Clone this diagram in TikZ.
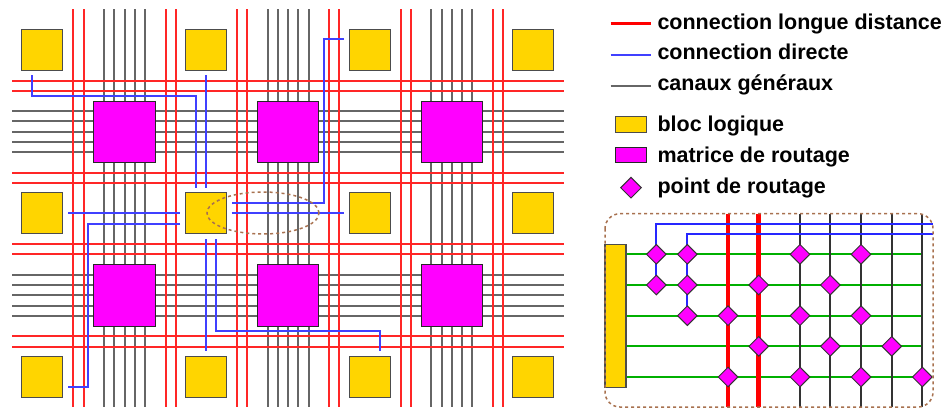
\documentclass[tikz,border=0pt]{standalone}
\usepackage{fontspec}
\setmainfont{Liberation Sans}
\usetikzlibrary{positioning, shapes.geometric, calc}

\definecolor{bloccolor}{HTML}{FFD500}
\definecolor{matcolor}{HTML}{FF00FF}
\definecolor{zoomcolor}{HTML}{A8714F}
\definecolor{routecolor}{HTML}{00B000}

\begin{document}
\begin{tikzpicture}[
  x=1pt,
  y=-1pt,
  bloc/.style={draw=black!70, fill=bloccolor, line width=1.1pt, inner sep=0pt, minimum size=41pt},
  matrice/.style={draw=black!85, fill=matcolor, line width=1.1pt, inner sep=0pt, minimum size=61.3pt},
  point/.style={diamond, draw=black!80, fill=matcolor, line width=1pt, inner sep=0pt, minimum size=20pt},
  longue/.style={draw=red!85, line width=2pt},
  longuefort/.style={draw=red, line width=4.5pt},
  directe/.style={draw=blue!75, line width=2pt},
  canal/.style={draw=black!60, line width=2pt},
  route/.style={draw=routecolor, line width=2pt},
  zoomed/.style={draw=zoomcolor, dashed, line width=1.5pt},
  legende/.style={anchor=base west, inner sep=0pt, font=\fontsize{21.5}{22}\selectfont\bfseries}
]
  \useasboundingbox (0,0) rectangle (947,408);

  % Canaux generaux et connections longues
  \foreach \col in {0,1,2} {
    \foreach \k in {-2,...,2}
      \draw[canal] ({124.5+163.7*\col+10.25*\k},9) -- ({124.5+163.7*\col+10.25*\k},407);
  }
  \foreach \row in {0,1} {
    \foreach \k in {-2,...,2}
      \draw[canal] (12,{131.7+163.7*\row+10.25*\k}) -- (564,{131.7+163.7*\row+10.25*\k});
  }
  \foreach \col in {0,1,2} {
    \foreach \k in {-51.2,-41,41,51.2}
      \draw[longue] ({124.5+163.7*\col+\k},9) -- ({124.5+163.7*\col+\k},407);
  }
  \foreach \row in {0,1} {
    \foreach \k in {-51.2,-41,41,51.2}
      \draw[longue] (12,{131.7+163.7*\row+\k}) -- (564,{131.7+163.7*\row+\k});
  }

  % Blocs logiques et matrices
  \foreach \col in {0,...,3} {
    \foreach \row in {0,1,2}
      \node[bloc] (bloc\col\row) at ({42.3+163.7*\col},{49.7+163.7*\row}) {};
  }
  \foreach \col in {0,1,2} {
    \foreach \row in {0,1}
      \node[matrice] (mat\col\row) at ({124.5+163.7*\col},{131.7+163.7*\row}) {};
  }

  % Connections directes
  \coordinate (d1a) at (32.3,75.3);
  \coordinate (d1b) at (196,187.7);
  \coordinate (d2a) at (206,75.3);
  \coordinate (d2b) at (206,187.7);
  \coordinate (d3a) at (344,39.3);
  \coordinate (d3b) at (231.7,202.7);
  \coordinate (d4a) at (231.7,213.3);
  \coordinate (d4b) at (344,213.3);
  \coordinate (d5a) at (68.3,213.3);
  \coordinate (d5b) at (180,213.3);
  \coordinate (d6a) at (180,223.7);
  \coordinate (d6b) at (68.3,387.3);
  \coordinate (d7a) at (206,239.3);
  \coordinate (d7b) at (206,351);
  \coordinate (d8a) at (216.3,239.3);
  \coordinate (d8b) at (380,351);
  \draw[directe] (d1a) -- (32.3,95.7) -| (d1b);
  \draw[directe] (d2a) -- (d2b);
  \draw[directe] (d3a) -- (323.7,39.3) |- (d3b);
  \draw[directe] (d4a) -- (d4b);
  \draw[directe] (d5a) -- (d5b);
  \draw[directe] (d6a) -- (88.3,223.7) |- (d6b);
  \draw[directe] (d7a) -- (d7b);
  \draw[directe] (d8a) |- (380,331) -- (d8b);

  % Zone agrandie
  \node[ellipse, zoomed, minimum width=112pt, minimum height=42pt, inner sep=0pt] (zone) at (263,213) {};

  % Legende
  \node[legende] (tlongue) at (657.3,29.7) {connection longue distance};
  \node[legende] (tdirecte) at (657.3,59.7) {connection directe};
  \node[legende] (tcanal) at (657.3,90.3) {canaux généraux};
  \node[legende] (tbloc) at (657.3,131) {bloc logique};
  \node[legende] (tmat) at (657.3,162.3) {matrice de routage};
  \node[legende] (tpoint) at (657.3,193) {point de routage};
  \draw[longue, draw=red, line width=3.5pt] (610.7,23.7) -- (651.3,23.7);
  \draw[directe] (610.7,55) -- (651.3,55);
  \draw[canal] (610.7,85.7) -- (651.3,85.7);
  \node[bloc, minimum width=31.4pt, minimum height=15.6pt] (lbloc) at (631,124.5) {};
  \node[matrice, minimum width=31.4pt, minimum height=15.4pt] (lmat) at (631,155) {};
  \node[point, minimum size=21pt] (lpoint) at (631,187.7) {};

  % Detail de routage
  \foreach \y in {254.3,285,315.7,346.3,377}
    \draw[route] (626,\y) -- (922.3,\y);
  \foreach \x in {800,830.3,861,891.7,922.3}
    \draw[canal, draw=black!80] (\x,213.7) -- (\x,407);
  \foreach \x in {728,758.7}
    \draw[longuefort] (\x,213.7) -- (\x,407);
  \draw[directe, draw=blue!85] (656.3,285) |- (933,223.7);
  \draw[directe, draw=blue!85] (687.3,315.7) |- (933,234);

  \node[draw=black!70, fill=bloccolor, line width=1.1pt, inner sep=0pt, minimum width=21pt, minimum height=143pt] (detail) at (615.5,315.8) {};
  \foreach \x/\y [count=\i] in {656.3/254.3, 687.3/254.3, 800/254.3, 861/254.3,
      656.3/285, 687.3/285, 758.7/285, 830.3/285,
      687.3/315.7, 728/315.7, 800/315.7, 861/315.7,
      758.7/346.3, 830.3/346.3, 891.7/346.3,
      728/377, 800/377, 861/377, 922.3/377}
    \node[point] (p\i) at (\x,\y) {};

  \draw[zoomed, rounded corners=15pt] (605,213.7) rectangle (933,407);
\end{tikzpicture}
\end{document}
